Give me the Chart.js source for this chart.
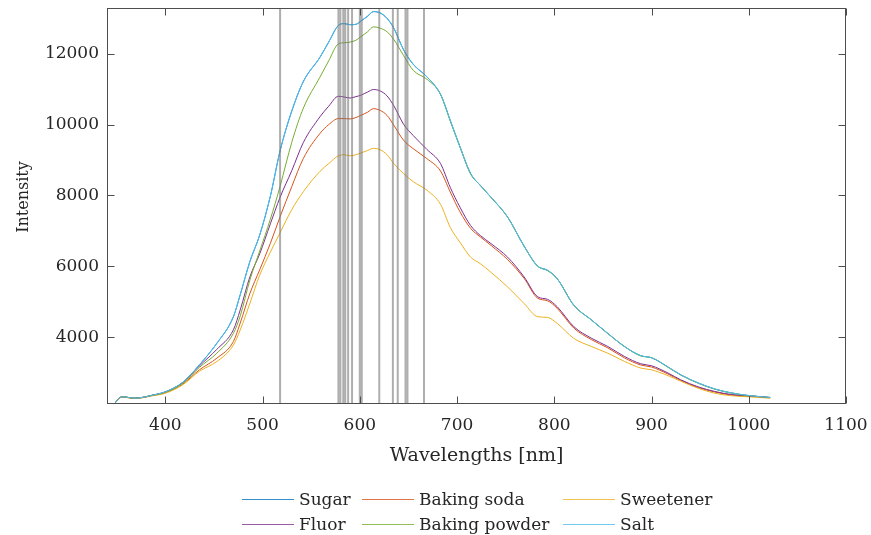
<!DOCTYPE html>
<html>
<head>
<meta charset="utf-8">
<title>Emission spectra</title>
<script src="https://cdn.jsdelivr.net/npm/chart.js@4.4.0/dist/chart.umd.min.js"></script>
<style>
  html, body { margin: 0; padding: 0; background: #fff; }
  #wrap { width: 871px; height: 535px; }
</style>
</head>
<body>
<div id="wrap"><canvas id="spectra" width="871" height="535"></canvas></div>
<script>
// sample wavelengths (nm) shared by all spectra
const wavelengths = [348, 352, 356, 362, 368, 376, 386, 400, 418, 435,
  453, 470, 477, 487, 497, 508, 518, 530, 542, 559,
  568, 578, 584, 590, 596, 601, 608, 614, 621, 628,
  635, 645, 655, 669, 683, 693, 703, 714, 724, 735,
  752, 769, 783, 793, 803, 820, 838, 855, 872, 889,
  900, 917, 930, 948, 965, 982, 1000, 1022];

const sugar = [2130, 2270, 2320, 2300, 2280, 2300, 2360, 2460, 2730, 3220,
  3830, 4580, 5200, 6140, 6880, 7980, 9260, 10380, 11220, 11900,
  12330, 12800, 12850, 12820, 12830, 12920, 13060, 13190, 13150, 13000,
  12720, 12110, 11700, 11350, 10850, 10120, 9370, 8620, 8280, 7950,
  7390, 6570, 6000, 5890, 5650, 4910, 4490, 4110, 3740, 3480,
  3420, 3160, 2940, 2710, 2540, 2430, 2355, 2300];

const bakingSoda = [2130, 2265, 2315, 2295, 2275, 2295, 2350, 2435, 2680, 3080,
  3410, 3880, 4400, 5240, 5900, 6650, 7400, 8250, 9050, 9750,
  10000, 10170, 10170, 10160, 10200, 10260, 10350, 10450, 10400, 10260,
  9980, 9560, 9320, 9040, 8690, 8100, 7540, 7070, 6830, 6590,
  6190, 5660, 5100, 5030, 4815, 4260, 3935, 3700, 3420, 3215,
  3160, 2960, 2780, 2580, 2455, 2370, 2335, 2290];

const sweetener = [2130, 2260, 2310, 2290, 2270, 2290, 2345, 2420, 2660, 3040,
  3315, 3780, 4205, 4960, 5750, 6400, 6950, 7600, 8110, 8680,
  8900, 9120, 9150, 9120, 9150, 9200, 9270, 9330, 9290, 9150,
  8900, 8620, 8390, 8150, 7750, 7100, 6680, 6260, 6075, 5830,
  5420, 4950, 4580, 4560, 4390, 3970, 3740, 3550, 3320, 3130,
  3080, 2915, 2760, 2560, 2420, 2350, 2320, 2280];

const fluor = [2130, 2270, 2320, 2300, 2280, 2300, 2360, 2455, 2720, 3190,
  3660, 4210, 4770, 5710, 6350, 7200, 7950, 8700, 9500, 10220,
  10520, 10800, 10780, 10750, 10790, 10830, 10920, 10990, 10950, 10810,
  10530, 10010, 9690, 9300, 8900, 8230, 7670, 7150, 6870, 6640,
  6260, 5700, 5140, 5070, 4860, 4300, 3975, 3740, 3460, 3250,
  3195, 2990, 2800, 2600, 2470, 2385, 2345, 2300];

const bakingPowder = [2130, 2270, 2320, 2300, 2280, 2300, 2355, 2445, 2700, 3150,
  3550, 4110, 4600, 5620, 6430, 7330, 8260, 9500, 10470, 11340,
  11800, 12280, 12310, 12330, 12380, 12480, 12620, 12760, 12720, 12620,
  12400, 11950, 11530, 11280, 10860, 10100, 9380, 8600, 8290, 7940,
  7395, 6560, 6010, 5880, 5655, 4900, 4495, 4100, 3745, 3470,
  3425, 3150, 2935, 2700, 2535, 2425, 2350, 2298];

const salt = [2130, 2270, 2320, 2300, 2280, 2300, 2360, 2460, 2730, 3220,
  3830, 4580, 5200, 6140, 6880, 7980, 9260, 10380, 11220, 11900,
  12330, 12800, 12850, 12820, 12830, 12920, 13060, 13190, 13150, 13000,
  12720, 12110, 11700, 11350, 10850, 10120, 9370, 8620, 8280, 7950,
  7390, 6570, 6000, 5890, 5650, 4910, 4490, 4110, 3740, 3480,
  3420, 3160, 2940, 2710, 2540, 2430, 2355, 2300];

// reference emission lines (nm)
const markerLines = [518, 578, 580, 583, 585, 588, 592, 600, 602, 620, 634, 639, 647, 649, 666];

const xTicks = [400, 500, 600, 700, 800, 900, 1000, 1100];
const yTicks = [4000, 6000, 8000, 10000, 12000];

const serif = "'DejaVu Serif', 'Liberation Serif', serif";
const ink = '#262626';

const series = [
  { label: 'Sugar', values: sugar, color: '#0072BD' },
  { label: 'Baking soda', values: bakingSoda, color: '#D95319' },
  { label: 'Sweetener', values: sweetener, color: '#EDB120' },
  { label: 'Fluor', values: fluor, color: '#7E2F8E' },
  { label: 'Baking powder', values: bakingPowder, color: '#77AC30' },
  { label: 'Salt', values: salt, color: '#4DBEEE' },
];

const datasets = series.map((s, i) => ({
  label: s.label,
  data: wavelengths.map((w, j) => ({ x: w, y: s.values[j] })),
  borderColor: s.color,
  borderWidth: 1,
  pointRadius: 0,
  cubicInterpolationMode: 'monotone',
  order: series.length - i, // later series on top
}));

// gray vertical lines for the emission lines
const markerPlugin = {
  id: 'markers',
  afterDatasetsDraw(chart) {
    const { ctx, chartArea, scales } = chart;
    ctx.save();
    ctx.strokeStyle = 'rgba(120,120,120,0.6)';
    ctx.lineWidth = 2;
    markerLines.forEach(nm => {
      const x = scales.x.getPixelForValue(nm);
      ctx.beginPath();
      ctx.moveTo(x, chartArea.top);
      ctx.lineTo(x, chartArea.bottom);
      ctx.stroke();
    });
    ctx.restore();
  }
};

// box, inward ticks, axis titles and a 3-column legend
const framePlugin = {
  id: 'frame',
  afterDraw(chart) {
    const { ctx, chartArea: a, scales } = chart;
    const L = Math.round(a.left) + 0.5, R = Math.round(a.right) - 0.5;
    const T = Math.round(a.top) + 0.5, B = Math.round(a.bottom) - 0.5;
    const tick = 7;
    ctx.save();
    ctx.strokeStyle = '#4d4d4d';
    ctx.lineWidth = 1;
    ctx.strokeRect(L, T, R - L, B - T);
    ctx.beginPath();
    xTicks.forEach(v => {
      const x = Math.round(scales.x.getPixelForValue(v)) + 0.5;
      ctx.moveTo(x, B); ctx.lineTo(x, B - tick);
      ctx.moveTo(x, T); ctx.lineTo(x, T + tick);
    });
    yTicks.forEach(v => {
      const y = Math.round(scales.y.getPixelForValue(v)) + 0.5;
      ctx.moveTo(L, y); ctx.lineTo(L + tick, y);
      ctx.moveTo(R, y); ctx.lineTo(R - tick, y);
    });
    ctx.stroke();

    ctx.fillStyle = ink;
    ctx.font = '19px ' + serif;
    ctx.textAlign = 'center';
    ctx.textBaseline = 'alphabetic';
    ctx.fillText('Wavelengths [nm]', (a.left + a.right) / 2, 461);

    ctx.save();
    ctx.translate(28, 197);
    ctx.rotate(-Math.PI / 2);
    ctx.font = '16px ' + serif;
    ctx.fillText('Intensity', 0, 0);
    ctx.restore();

    const cols = [242, 362, 563];
    const rows = [499, 524];
    ctx.font = '17px ' + serif;
    ctx.textAlign = 'left';
    chart.data.datasets.forEach((ds, i) => {
      const x = cols[i % 3], y = rows[Math.floor(i / 3)];
      ctx.strokeStyle = ds.borderColor;
      ctx.globalAlpha = 0.8;
      ctx.beginPath();
      ctx.moveTo(x, y + 0.5); ctx.lineTo(x + 52, y + 0.5);
      ctx.stroke();
      ctx.globalAlpha = 1;
      ctx.fillText(ds.label, x + 57, y + 6);
    });
    ctx.restore();
  }
};

new Chart(document.getElementById('spectra'), {
  type: 'line',
  data: { datasets },
  options: {
    responsive: false,
    animation: false,
    devicePixelRatio: 1,
    layout: { padding: { top: 8, right: 25, left: 0, bottom: 0 } },
    plugins: { legend: { display: false }, tooltip: { enabled: false } },
    scales: {
      x: {
        type: 'linear',
        min: 340,
        max: 1100,
        grid: { display: false, drawTicks: false },
        border: { display: false },
        afterFit: s => {
          s.height = 131;
          s.paddingLeft = 0; s.paddingRight = 0;
        },
        afterBuildTicks: s => { s.ticks = xTicks.map(v => ({ value: v })); },
        ticks: {
          autoSkip: false, maxRotation: 0, padding: 11, color: ink,
          font: { family: serif, size: 17 },
          callback: v => String(v),
        },
      },
      y: {
        type: 'linear',
        min: 2116,
        max: 13291,
        grid: { display: false, drawTicks: false },
        border: { display: false },
        afterFit: s => {
          s.width = 107;
          s.paddingTop = 0; s.paddingBottom = 0;
        },
        afterBuildTicks: s => { s.ticks = yTicks.map(v => ({ value: v })); },
        ticks: {
          autoSkip: false, padding: 8, color: ink,
          font: { family: serif, size: 17 },
          callback: v => String(v),
        },
      },
    },
  },
  plugins: [markerPlugin, framePlugin],
});
</script>
</body>
</html>
